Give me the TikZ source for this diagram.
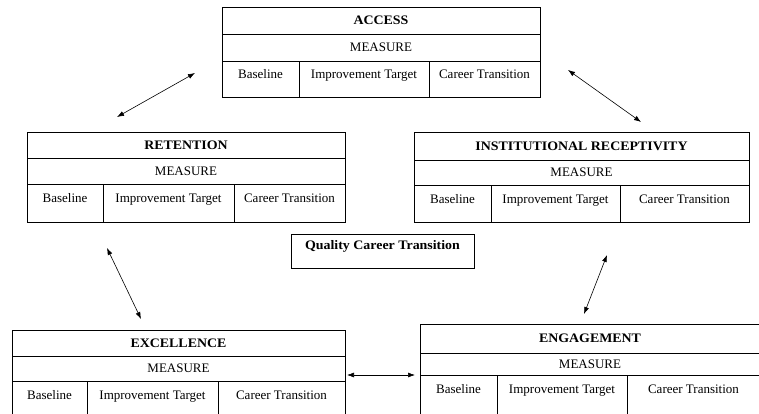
\documentclass[tikz,border=0pt]{standalone}
\usepackage{fontspec}
\setmainfont{Liberation Serif}[BoldFeatures={FakeStretch=1.07}]
\usetikzlibrary{arrows.meta}

\begin{document}
\begin{tikzpicture}[x=1pt,y=-1pt,
            every node/.style={font=\fontsize{13}{15}\selectfont},
            cell/.style={rectangle,draw,line width=0.8pt,anchor=north west,inner xsep=0pt,inner ysep=0pt,outer sep=0pt},
            head/.style={cell,font=\fontsize{13}{15}\selectfont\bfseries},
            colcell/.style={cell,inner ysep=3pt,text height=15pt,text depth=#1},
            link/.style={{Latex[length=7pt,width=5pt]}-{Latex[length=7pt,width=5pt]},line width=0.6pt}]
            \useasboundingbox (0,0) rectangle (759,414);
            % access
            \node[head,minimum width=318pt,minimum height=27pt] (acc-t) at (222,7) {ACCESS};
            \node[cell,minimum width=318pt,minimum height=27pt] (acc-m) at (acc-t.south west) {MEASURE};
            \node[colcell=15pt,minimum width=77pt] (acc-b) at (acc-m.south west) {Baseline};
            \node[colcell=15pt,minimum width=130pt] (acc-i) at (acc-b.north east) {Improvement Target};
            \node[colcell=15pt,minimum width=111pt] (acc-c) at (acc-i.north east) {Career Transition};
            % retention
            \node[head,minimum width=318pt,minimum height=26pt] (ret-t) at (27,132) {RETENTION};
            \node[cell,minimum width=318pt,minimum height=26pt] (ret-m) at (ret-t.south west) {MEASURE};
            \node[colcell=17pt,minimum width=76pt] (ret-b) at (ret-m.south west) {Baseline};
            \node[colcell=17pt,minimum width=131pt] (ret-i) at (ret-b.north east) {Improvement Target};
            \node[colcell=17pt,minimum width=111pt] (ret-c) at (ret-i.north east) {Career Transition};
            % institutional receptivity
            \node[head,minimum width=335pt,minimum height=28pt] (ins-t) at (414,132) {INSTITUTIONAL RECEPTIVITY};
            \node[cell,minimum width=335pt,minimum height=25pt] (ins-m) at (ins-t.south west) {MEASURE};
            \node[colcell=16pt,minimum width=77pt] (ins-b) at (ins-m.south west) {Baseline};
            \node[colcell=16pt,minimum width=129pt] (ins-i) at (ins-b.north east) {Improvement Target};
            \node[colcell=16pt,minimum width=129pt] (ins-c) at (ins-i.north east) {Career Transition};
            % excellence
            \node[head,minimum width=333pt,minimum height=26pt] (exc-t) at (12,330) {EXCELLENCE};
            \node[cell,minimum width=333pt,minimum height=25pt] (exc-m) at (exc-t.south west) {MEASURE};
            \node[colcell=40pt,minimum width=75pt] (exc-b) at (exc-m.south west) {Baseline};
            \node[colcell=40pt,minimum width=131pt] (exc-i) at (exc-b.north east) {Improvement Target};
            \node[colcell=40pt,minimum width=127pt] (exc-c) at (exc-i.north east) {Career Transition};
            % engagement
            \node[head,minimum width=340pt,minimum height=29pt] (eng-t) at (420,324) {ENGAGEMENT};
            \node[cell,minimum width=340pt,minimum height=22pt] (eng-m) at (eng-t.south west) {MEASURE};
            \node[colcell=40pt,minimum width=77pt] (eng-b) at (eng-m.south west) {Baseline};
            \node[colcell=40pt,minimum width=130pt] (eng-i) at (eng-b.north east) {Improvement Target};
            \node[colcell=40pt,minimum width=133pt] (eng-c) at (eng-i.north east) {Career Transition};
            % centre
            \node[colcell=16pt,text height=12pt,minimum width=183pt,font=\fontsize{13}{15}\selectfont\bfseries] (qct) at (291,234) {Quality Career Transition};

            \coordinate (ra) at (117,117);
            \coordinate (ar) at (195,73);
            \coordinate (ai) at (568,70);
            \coordinate (ia) at (641,122);
            \coordinate (re) at (107,248);
            \coordinate (er) at (141,319);
            \coordinate (ie) at (607,255);
            \coordinate (ei) at (584,314);
            \coordinate (eg) at (347,375);
            \coordinate (ge) at (415,375);
            \draw[link] (ra) -- (ar);
            \draw[link] (ai) -- (ia);
            \draw[link] (re) -- (er);
            \draw[link] (ie) -- (ei);
            \draw[link] (eg) -- (ge);

          \end{tikzpicture}
\end{document}
